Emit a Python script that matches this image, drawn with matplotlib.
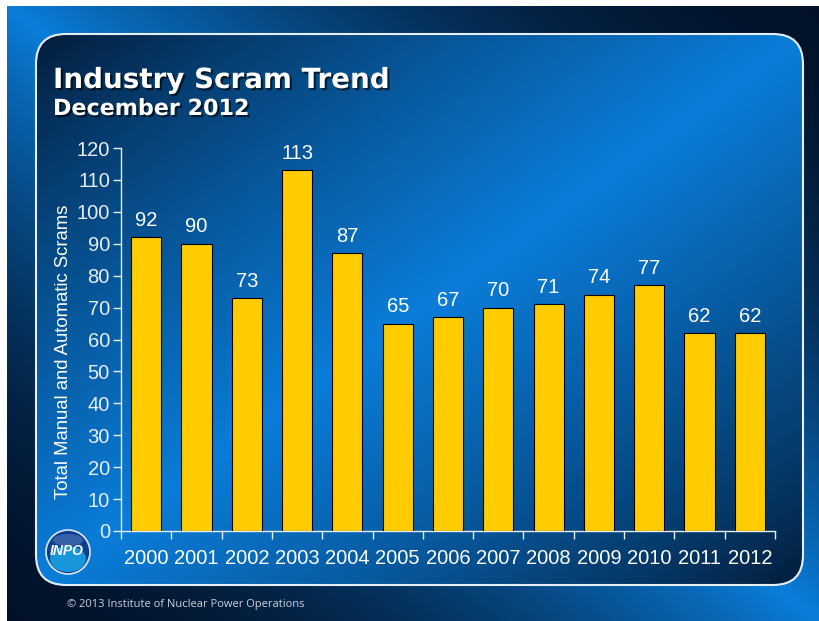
import numpy as np
import matplotlib
matplotlib.use("Agg")
import matplotlib.pyplot as plt
import matplotlib.patheffects as pe
from matplotlib.patches import FancyBboxPatch, Circle, Ellipse

## data
years = ['2000', '2001', '2002', '2003', '2004', '2005', '2006',
         '2007', '2008', '2009', '2010', '2011', '2012']
scrams = [92, 90, 73, 113, 87, 65, 67, 70, 71, 74, 77, 62, 62]
yticks = [0, 10, 20, 30, 40, 50, 60, 70, 80, 90, 100, 110, 120]

W, H = 820, 621
fig = plt.figure(figsize=(W / 100, H / 100), dpi=100)
fig.patch.set_facecolor('white')

##background slide (pixel coords)
bg = fig.add_axes([0, 0, 1, 1])
bg.set_xlim(0, W)
bg.set_ylim(H, 0)
bg.axis('off')

yy, xx = np.mgrid[0:H, 0:W]
u = xx / W
v = yy / H
dark = np.array([0.01, 0.07, 0.16])
bright = np.array([0.04, 0.49, 0.85])

t = np.clip(1 - np.abs(u - v), 0, 1) ** 1.8
outer = dark + (bright - dark) * t[..., None]
bg.imshow(outer, extent=(7, W, H, 6), aspect='auto', zorder=0)

# rounded panel
px0, py0, px1, py1 = 36, 34, 803, 585
p = (xx - px0) / (px1 - px0)
q = (yy - py0) / (py1 - py0)
b = np.clip(1 - np.abs(p + q - 1) * 0.95, 0, 1) ** 0.8
panel_img = dark + (bright - dark) * b[..., None]
im = bg.imshow(panel_img, extent=(0, W, H, 0), aspect='auto', zorder=1)
panel = FancyBboxPatch((px0, py0), px1 - px0, py1 - py0,
                       boxstyle="round,pad=0,rounding_size=30",
                       facecolor='none', edgecolor='#e6eef6', linewidth=1.5, zorder=2)
bg.add_patch(panel)
im.set_clip_path(panel)

##INPO logo
bg.add_patch(Circle((68, 552), 22, facecolor='#0b3f94', edgecolor='#dfe8f2', linewidth=1.2, zorder=3))
bg.add_patch(Ellipse((68, 559), 36, 26, facecolor='#1aa6e6', alpha=0.85, zorder=3))
bg.add_patch(Ellipse((68, 540), 30, 12, facecolor='white', alpha=0.18, zorder=3))
bg.text(67, 551, 'INPO', ha='center', va='center', fontsize=10, color='white',
        fontweight='bold', fontstyle='italic', family='Liberation Sans', zorder=4)

##copyright
bg.text(67, 604, '\u00a9 2013 Institute of Nuclear Power Operations', ha='left', va='center',
        fontsize=8, color='#c9d2de', family='Open Sans', zorder=4)

##titles
shadow = [pe.SimplePatchShadow(offset=(1.5, -1.5), shadow_rgbFace='black', alpha=0.6), pe.Normal()]
fig.text(53 / W, 1 - 80 / H, 'Industry Scram Trend', ha='left', va='center', fontsize=20,
         fontweight='bold', color='white', family='DejaVu Sans', path_effects=shadow)
fig.text(53 / W, 1 - 109 / H, 'December 2012', ha='left', va='center', fontsize=16,
         fontweight='bold', color='white', family='DejaVu Sans', path_effects=shadow)

##chart
ax = fig.add_axes([121 / W, 1 - 531 / H, (775 - 121) / W, (531 - 148) / H])
ax.patch.set_alpha(0)
x = np.arange(len(years))
ax.bar(x, scrams, width=0.6, color='#ffcc00', edgecolor='black', linewidth=0.8, zorder=3)
for xi, val in zip(x, scrams):
    ax.text(xi, val + 5.3, str(val), ha='center', va='center', fontsize=14.5,
            color='white', family='Liberation Sans')

ax.set_xlim(-0.5, len(years) - 0.5)
ax.set_ylim(0, 120)
ax.set_yticks(yticks)
ax.set_yticklabels([str(t) for t in yticks])
ax.set_xticks(x)
ax.set_xticklabels(years)
ax.set_xticks(np.arange(len(years) + 1) - 0.5, minor=True)

for s in ['top', 'right']:
    ax.spines[s].set_visible(False)
for s in ['left', 'bottom']:
    ax.spines[s].set_color('#e6eef6')
    ax.spines[s].set_linewidth(1)

ax.tick_params(axis='y', colors='#e6eef6', length=6, width=1, pad=2, labelsize=14.5)
ax.tick_params(axis='x', which='major', length=0, pad=13, labelsize=14.5, colors='white')
ax.tick_params(axis='x', which='minor', length=6, width=1, colors='#e6eef6')
for lab in ax.get_xticklabels() + ax.get_yticklabels():
    lab.set_family('Liberation Sans')

fig.text(64 / W, 1 - 352 / H, 'Total Manual and Automatic Scrams', rotation=90,
         ha='center', va='center', fontsize=13.3, color='white', family='Liberation Sans')

fig.savefig('out.png', dpi=100)
